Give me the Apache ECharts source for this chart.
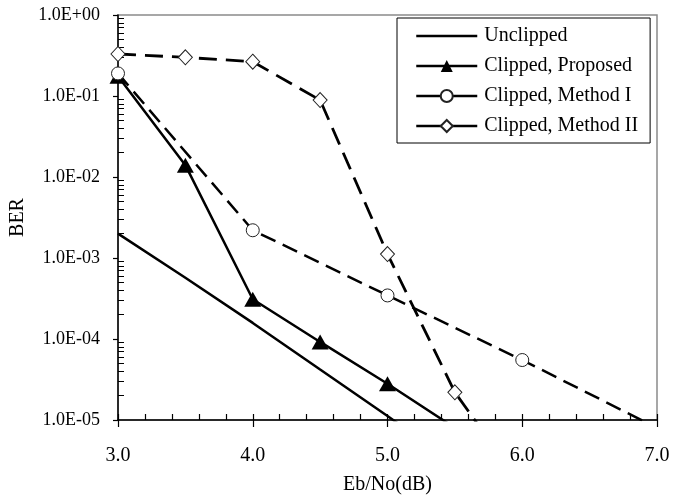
<!DOCTYPE html>
<html>
<head>
<meta charset="utf-8">
<script src="https://cdn.jsdelivr.net/npm/echarts@6/dist/echarts.min.js"></script>
<style>html,body{margin:0;padding:0;background:#fff}#c{width:673px;height:495px}</style>
</head>
<body>
<div id="c"></div>
<script>
const seriesNames = ['Unclipped', 'Clipped, Proposed', 'Clipped, Method I', 'Clipped, Method II'];
const xUnclipped = [3.0, 3.5, 4.0, 4.5, 5.0, 5.5];
const unclipped = [2.0e-3, 5.7e-4, 1.58e-4, 4.2e-5, 1.12e-5, 2.9e-6];
const xProposed = [3.0, 3.5, 4.0, 4.5, 5.0, 5.5];
const proposed = [0.175, 0.014, 3.1e-4, 9.2e-5, 2.8e-5, 8.0e-6];
const xMethod1 = [3.0, 4.0, 5.0, 6.0, 7.0];
const method1 = [0.19, 2.2e-3, 3.45e-4, 5.5e-5, 8.0e-6];
const xMethod2 = [3.0, 3.5, 4.0, 4.5, 5.0, 5.5, 6.0];
const method2 = [0.33, 0.30, 0.265, 0.089, 1.12e-3, 2.2e-5, 1.5e-6];
const xTicks = [3.0, 4.0, 5.0, 6.0, 7.0];
const yMin = 1e-5, yMax = 1;

const FONT = 'Liberation Serif';
const zip = (xs, ys) => xs.map((x, i) => [x, ys[i]]);

// minor tick values 2..9 x 10^n on the log axis
const minorVals = [];
for (let e = -5; e < 0; e++) {
  for (let m = 2; m <= 9; m++) minorVals.push(m * Math.pow(10, e));
}
function sciLabel(v) {
  const e = Math.round(Math.log10(v));
  const s = e >= 0 ? '+' : '-';
  const a = Math.abs(e);
  return '1.0E' + s + (a < 10 ? '0' + a : '' + a);
}

const chart = echarts.init(document.getElementById('c'));
chart.setOption({
  animation: false,
  backgroundColor: '#fff',
  textStyle: { fontFamily: FONT, color: '#000' },
  grid: {
    left: 118, top: 15, right: 16, bottom: 75,
    outerBoundsMode: 'none', containLabel: false,
    show: true, borderColor: '#8a8a8a', borderWidth: 1.5, backgroundColor: 'transparent'
  },
  xAxis: [
    {
      type: 'value', min: xTicks[0], max: xTicks[xTicks.length - 1], interval: 1,
      name: 'Eb/No(dB)', nameLocation: 'middle', nameGap: 55, nameMoveOverlap: false,
      nameTextStyle: { fontFamily: FONT, fontSize: 20, color: '#000' },
      axisLine: { show: true, lineStyle: { color: '#000', width: 1.5 } },
      axisTick: { show: true, inside: false, length: 7, lineStyle: { color: '#000', width: 1.2 } },
      axisLabel: { fontFamily: FONT, fontSize: 20, color: '#000', margin: 26,
        formatter: v => v.toFixed(1) },
      splitLine: { show: false }
    },
    {
      type: 'value', min: xTicks[0], max: xTicks[xTicks.length - 1], interval: 0.2,
      position: 'bottom',
      axisLine: { show: false },
      axisTick: { show: true, inside: true, length: 6, lineStyle: { color: '#000', width: 1.2 } },
      axisLabel: { show: false },
      splitLine: { show: false }
    }
  ],
  yAxis: [
    {
      type: 'log', logBase: 10, min: yMin, max: yMax,
      name: 'BER', nameLocation: 'middle', nameGap: 90, nameRotate: 90, nameMoveOverlap: false,
      nameTextStyle: { fontFamily: FONT, fontSize: 20, color: '#000' },
      axisLine: { show: true, lineStyle: { color: '#000', width: 1.5 } },
      axisTick: { show: true, inside: false, length: 5, lineStyle: { color: '#000', width: 1.2 } },
      axisLabel: { fontFamily: FONT, fontSize: 18, color: '#000', margin: 18, formatter: sciLabel },
      splitLine: { show: false }
    },
    {
      type: 'log', logBase: 10, min: yMin, max: yMax, position: 'left',
      axisLine: { show: false },
      axisTick: { show: true, inside: true, length: 6, customValues: minorVals,
        lineStyle: { color: '#000', width: 1 } },
      axisLabel: { show: false },
      splitLine: { show: false }
    }
  ],
  legend: {
    orient: 'vertical', left: 397, top: 18,
    padding: [8, 12, 7, 18], itemGap: 10, itemWidth: 61, itemHeight: 15,
    backgroundColor: '#fff', borderColor: '#000', borderWidth: 1, borderRadius: 0,
    textStyle: { fontFamily: FONT, fontSize: 20, color: '#000', padding: [0, 0, 0, 2] },
    data: seriesNames.map((n, i) => i === 0
      ? { name: n, lineStyle: { type: 'solid', width: 2.5 },
          itemStyle: { color: 'rgba(0,0,0,0)', borderColor: 'rgba(0,0,0,0)', borderWidth: 0 } }
      : { name: n, lineStyle: { type: 'solid', width: 2.5 } })
  },
  series: [
    {
      name: seriesNames[0], type: 'line', data: zip(xUnclipped, unclipped),
      symbol: 'none', lineStyle: { color: '#000', width: 2.5 }, itemStyle: { color: '#000' }
    },
    {
      name: seriesNames[1], type: 'line', data: zip(xProposed, proposed),
      symbol: 'triangle', symbolSize: [17, 15],
      lineStyle: { color: '#000', width: 2.5 }, itemStyle: { color: '#000' }
    },
    {
      name: seriesNames[2], type: 'line', data: zip(xMethod1, method1),
      symbol: 'circle', symbolSize: 13,
      lineStyle: { color: '#000', width: 2.5, type: [16, 8] },
      itemStyle: { color: '#fff', borderColor: '#222', borderWidth: 1 }
    },
    {
      name: seriesNames[3], type: 'line', data: zip(xMethod2, method2),
      symbol: 'diamond', symbolSize: [14, 15],
      lineStyle: { color: '#000', width: 2.8, type: [18, 9] },
      itemStyle: { color: '#fff', borderColor: '#222', borderWidth: 1 }
    }
  ]
});
</script>
</body>
</html>
